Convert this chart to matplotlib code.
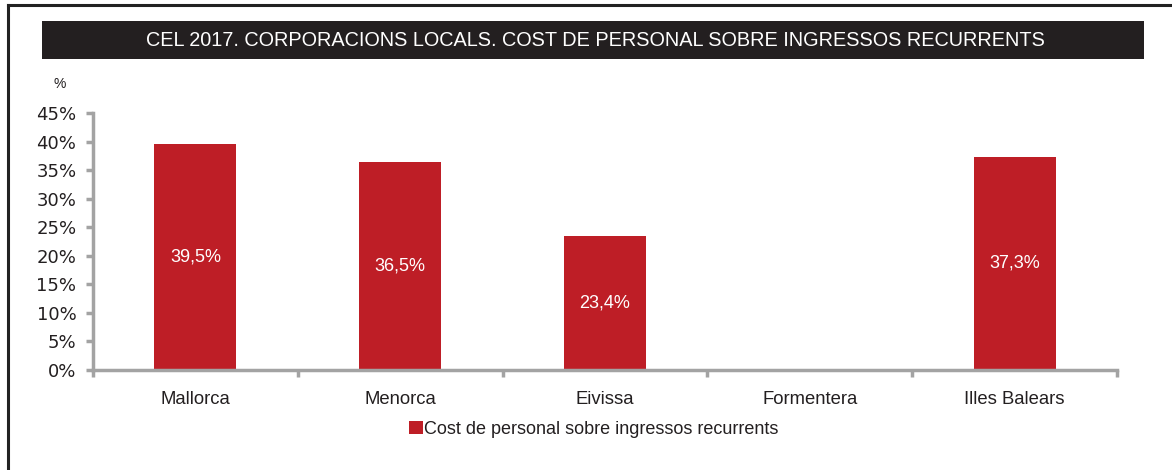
#!/usr/bin/env python3

import matplotlib as mpl
mpl.use('Agg')
import matplotlib.pyplot as plt
from matplotlib.patches import Rectangle
from matplotlib.lines import Line2D
from matplotlib.ticker import MultipleLocator, FuncFormatter
import numpy as np

#======================================================================

TITLE = 'CEL 2017. CORPORACIONS LOCALS. COST DE PERSONAL SOBRE INGRESSOS RECURRENTS'
SERIES_NAME = 'Cost de personal sobre ingressos recurrents'

categories = ['Mallorca', 'Menorca', 'Eivissa', 'Formentera', 'Illes Balears']
values = [39.5, 36.5, 23.4, np.nan, 37.3]

BAR_COLOR = '#be1e26'
AXIS_COLOR = '#a3a3a3'
TEXT_COLOR = '#231f20'
NARROW = ['Liberation Sans', 'DejaVu Sans']

#======================================================================

fig = plt.figure(figsize=(11.72, 4.70), dpi=100)

# outer frame (top and left edges are visible in the reference)
fig.add_artist(Line2D([8/1172, 8/1172], [0, 1 - 5/470], color='#222222', lw=2.2,
                      transform=fig.transFigure))
fig.add_artist(Line2D([8/1172, 1], [1 - 5/470, 1 - 5/470], color='#222222', lw=2.2,
                      transform=fig.transFigure))

# title bar
fig.add_artist(Rectangle((42/1172, 1 - 59/470), (1144 - 42)/1172, 38/470,
                         facecolor='#231f20', edgecolor='none',
                         transform=fig.transFigure))
fig.text(595/1172, 1 - 41/470, TITLE, color='white', ha='center', va='center',
         fontsize=14.3, family=NARROW)

ax = fig.add_axes([93/1172, 100/470, (1117 - 93)/1172, (370 - 113)/470])

xs = np.arange(len(categories))
bars = ax.bar(xs, values, width=0.4, color=BAR_COLOR, label=SERIES_NAME)

for x, v in zip(xs, values):
    if np.isnan(v):
        continue
    ax.text(x, v/2, f'{v:.1f}%'.replace('.', ','), color='white',
            ha='center', va='center', fontsize=13, family=NARROW)

ax.set_xlim(-0.5, len(categories) - 0.5)
ax.set_ylim(0, 45)
ax.yaxis.set_major_locator(MultipleLocator(5))
ax.yaxis.set_major_formatter(FuncFormatter(lambda v, p: f'{v:.0f}%'))

ax.set_xticks(xs)
ax.set_xticklabels(categories, family=NARROW, fontsize=13.3, color=TEXT_COLOR)
ax.set_xticks(np.arange(len(categories) + 1) - 0.5, minor=True)
ax.tick_params(axis='x', which='major', length=0, pad=15)
ax.tick_params(axis='x', which='minor', length=5, width=2.5, color=AXIS_COLOR)
ax.tick_params(axis='y', length=5, width=2.5, color=AXIS_COLOR,
               labelsize=13, labelcolor=TEXT_COLOR, pad=7)

for side in ['top', 'right']:
    ax.spines[side].set_visible(False)
for side in ['left', 'bottom']:
    ax.spines[side].set_color(AXIS_COLOR)
    ax.spines[side].set_linewidth(2.5)

fig.text(60/1172, 1 - 84/470, '%', ha='center', va='center', fontsize=10,
         family=NARROW, color=TEXT_COLOR)

leg = fig.legend(handles=[bars], labels=[SERIES_NAME], loc='center',
                 bbox_to_anchor=(594/1172, 1 - 429/470), frameon=False,
                 handlelength=0.75, handleheight=0.75, handletextpad=0.1,
                 prop={'family': NARROW, 'size': 13})
for t in leg.get_texts():
    t.set_color(TEXT_COLOR)

fig.savefig('out.png', dpi=100)
plt.close()
